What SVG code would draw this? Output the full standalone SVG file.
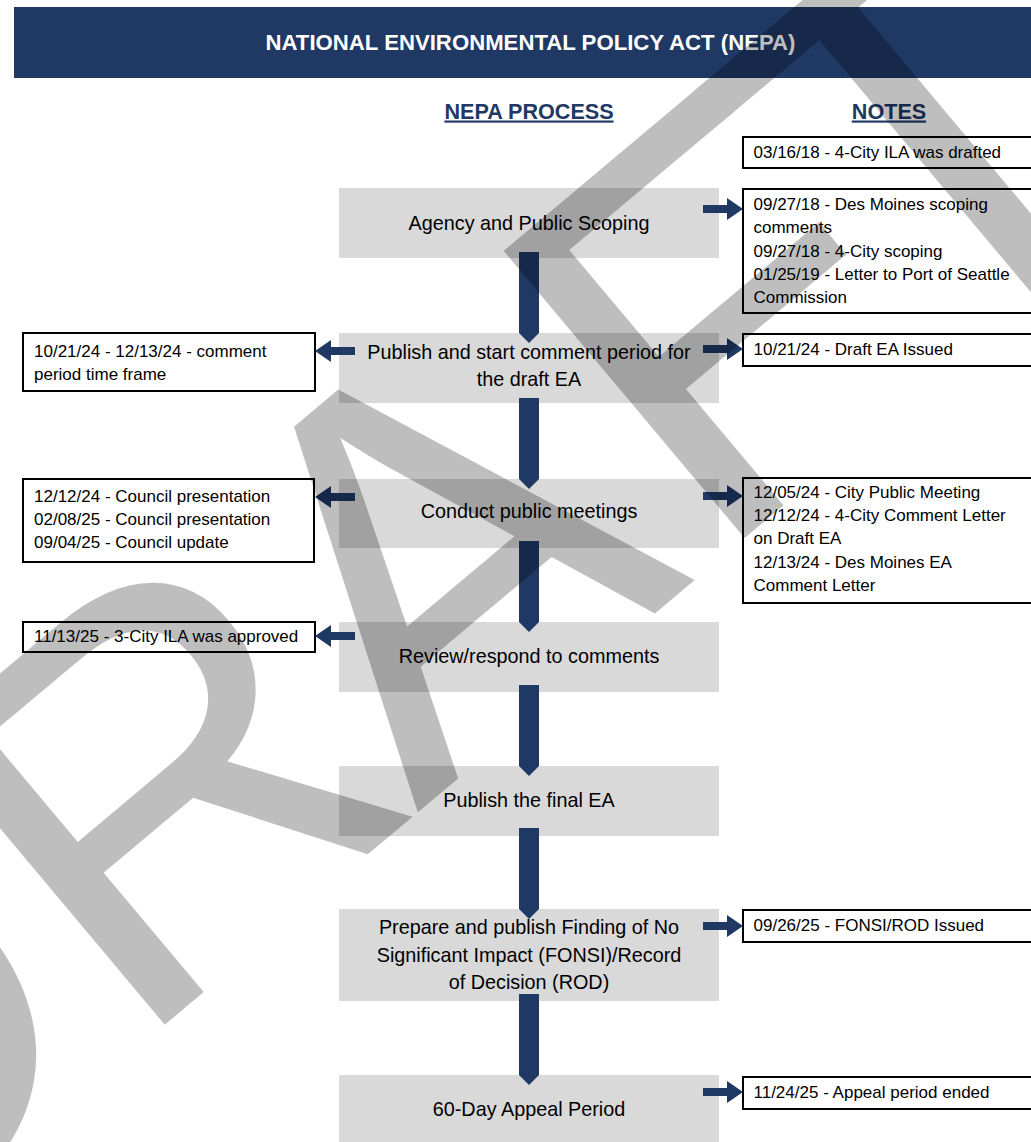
<svg xmlns="http://www.w3.org/2000/svg" width="1031" height="1142" viewBox="0 0 1031 1142">
<defs>
<style>
.hdr{fill:#1f3864}
.ttl{font-family:"Liberation Sans",Arial,sans-serif;font-weight:bold;font-size:22.5px;fill:#fff;text-anchor:middle}
.sec{font-family:"Liberation Sans",Arial,sans-serif;font-weight:bold;font-size:21.6px;fill:#1f3864;text-anchor:middle;text-decoration:underline}
.step rect{fill:#d9d9d9}
.step text{font-family:"Liberation Sans",Arial,sans-serif;font-size:19.8px;fill:#000;text-anchor:middle}
.note rect{fill:#fff;stroke:#000;stroke-width:2}
.note text{font-family:"Liberation Sans",Arial,sans-serif;font-size:17px;fill:#000}
.conn{fill:#1f3864}
.wm{font-family:"Liberation Sans",Arial,sans-serif;font-size:545px;fill:#000}
</style>
<path id="varrow" d="M519,0H539V81L529,91L519,81Z"/>
<path id="harrow" d="M-40,-4H-16V-11L0,0L-16,11V4H-40Z"/>
</defs>
<rect width="1031" height="1142" fill="#fff"/>
<g id="header">
<rect class="hdr" x="14" y="7" width="1030" height="71"/>
<text class="ttl" x="530.5" y="50" textLength="530" lengthAdjust="spacingAndGlyphs">NATIONAL ENVIRONMENTAL POLICY ACT (NEPA)</text>
</g>
<g id="col-process"><text class="sec" x="529" y="118.5">NEPA PROCESS</text></g>
<g id="col-notes"><text class="sec" x="889" y="118.5">NOTES</text></g>

<g id="step1" class="step"><rect x="339" y="188" width="380" height="70"/><text x="529" y="229.5">Agency and Public Scoping</text></g>
<g id="step2" class="step"><rect x="339" y="333" width="380" height="70"/><text x="529" y="359.3">Publish and start comment period for</text><text x="529" y="386">the draft EA</text></g>
<g id="step3" class="step"><rect x="339" y="479" width="380" height="69"/><text x="529" y="518.3">Conduct public meetings</text></g>
<g id="step4" class="step"><rect x="339" y="622" width="380" height="70"/><text x="529" y="663.3">Review/respond to comments</text></g>
<g id="step5" class="step"><rect x="339" y="766" width="380" height="70"/><text x="529" y="807.3">Publish the final EA</text></g>
<g id="step6" class="step"><rect x="339" y="909" width="380" height="92"/><text x="529" y="934.3">Prepare and publish Finding of No</text><text x="529" y="961.7">Significant Impact (FONSI)/Record</text><text x="529" y="989">of Decision (ROD)</text></g>
<g id="step7" class="step"><rect x="339" y="1075" width="380" height="70"/><text x="529" y="1115.7">60-Day Appeal Period</text></g>

<g id="note-ila-drafted" class="note"><rect x="743" y="137" width="300" height="31"/><text x="753.5" y="157.5">03/16/18 - 4-City ILA was drafted</text></g>
<g id="note-scoping" class="note"><rect x="743" y="189" width="300" height="124"/>
<text x="753.5" y="210">09/27/18 - Des Moines scoping</text>
<text x="753.5" y="233.3">comments</text>
<text x="753.5" y="256.6">09/27/18 - 4-City scoping</text>
<text x="753.5" y="280">01/25/19 - Letter to Port of Seattle</text>
<text x="753.5" y="303.3">Commission</text></g>
<g id="note-draft-ea" class="note"><rect x="743" y="334" width="300" height="32"/><text x="753.5" y="355">10/21/24 - Draft EA Issued</text></g>
<g id="note-meetings" class="note"><rect x="743" y="478" width="300" height="125"/>
<text x="753.5" y="497.7">12/05/24 - City Public Meeting</text>
<text x="753.5" y="521">12/12/24 - 4-City Comment Letter</text>
<text x="753.5" y="544.3">on Draft EA</text>
<text x="753.5" y="567.7">12/13/24 - Des Moines EA</text>
<text x="753.5" y="591">Comment Letter</text></g>
<g id="note-fonsi" class="note"><rect x="743" y="910" width="300" height="32"/><text x="753.5" y="931">09/26/25 - FONSI/ROD Issued</text></g>
<g id="note-appeal" class="note"><rect x="743" y="1077" width="300" height="32"/><text x="753.5" y="1097.5">11/24/25 - Appeal period ended</text></g>

<g id="note-comment-period" class="note"><rect x="23" y="333" width="292" height="58"/>
<text x="34" y="356.5">10/21/24 - 12/13/24 - comment</text>
<text x="34" y="379.5">period time frame</text></g>
<g id="note-council" class="note"><rect x="23" y="479" width="291" height="83"/>
<text x="34" y="501.5">12/12/24 - Council presentation</text>
<text x="34" y="525">02/08/25 - Council presentation</text>
<text x="34" y="548.3">09/04/25 - Council update</text></g>
<g id="note-ila-approved" class="note"><rect x="23" y="622" width="292" height="30"/><text x="34" y="641.5">11/13/25 - 3-City ILA was approved</text></g>

<g id="connectors" class="conn">
<use href="#varrow" y="252"/>
<use href="#varrow" y="398"/>
<use href="#varrow" y="541"/>
<use href="#varrow" y="685"/>
<use href="#varrow" y="828"/>
<use href="#varrow" y="994"/>
<use href="#harrow" x="743" y="209"/>
<use href="#harrow" x="743" y="349"/>
<use href="#harrow" x="743" y="496"/>
<use href="#harrow" x="743" y="926"/>
<use href="#harrow" x="743" y="1092"/>
<use href="#harrow" transform="translate(315,351) scale(-1,1)"/>
<use href="#harrow" transform="translate(315,497) scale(-1,1)"/>
<use href="#harrow" transform="translate(315,636) scale(-1,1)"/>
</g>

<g id="watermark" opacity="0.25"><text class="wm" transform="translate(417,813) rotate(-40)" x="-772 -374 0 383 664" y="0">DRAFT</text></g>
</svg>
